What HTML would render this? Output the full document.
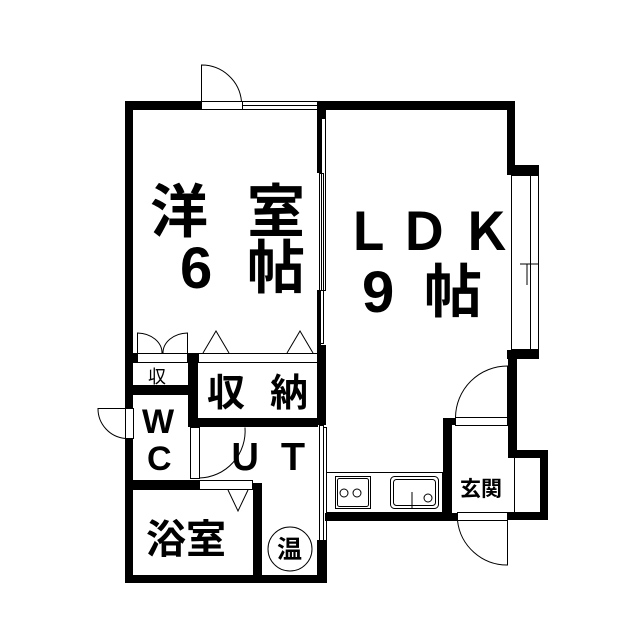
<!DOCTYPE html>
<html><head><meta charset="utf-8"><style>
html,body{margin:0;padding:0;background:#fff}
svg{display:block}
text{font-family:"Liberation Sans","Noto Sans CJK JP",sans-serif;fill:#000}
.b{font-weight:bold}
</style></head><body>
<svg width="639" height="640" viewBox="0 0 639 640" xmlns="http://www.w3.org/2000/svg">
<rect width="639" height="640" fill="#fff"/>
<g fill="#000">
<rect x="125" y="101" width="8" height="307"/>
<rect x="125" y="438" width="8" height="145"/>
<rect x="125" y="101" width="77" height="9"/>
<rect x="317" y="101" width="198" height="9"/>
<rect x="507" y="101" width="8" height="74"/>
<rect x="507" y="165" width="32" height="10"/>
<rect x="507" y="350" width="32" height="9"/>
<rect x="508" y="350" width="9" height="100"/>
<rect x="508" y="450" width="40" height="8"/>
<rect x="540" y="450" width="8" height="70"/>
<rect x="507" y="512" width="41" height="8"/>
<rect x="443" y="418" width="9" height="102"/>
<rect x="443" y="418" width="12" height="7"/>
<rect x="325" y="513" width="132" height="8"/>
<rect x="317" y="101" width="9" height="17"/>
<rect x="317" y="118" width="4" height="55"/>
<rect x="317" y="290" width="4" height="60"/>
<rect x="317" y="345" width="9" height="80"/>
<rect x="317" y="540" width="10" height="43"/>
<rect x="125" y="575" width="202" height="8"/>
<rect x="188" y="353" width="10" height="74"/>
<rect x="188" y="418" width="130" height="9"/>
<rect x="133" y="385" width="65" height="10"/>
<rect x="133" y="480" width="67" height="10"/>
<rect x="253" y="483" width="9" height="100"/>
<rect x="133" y="353" width="4" height="10"/>
</g>
<g fill="none" stroke="#000" stroke-width="1">
<rect x="201.5" y="101.5" width="41" height="8"/>
<path d="M201.5 101.5 V65 A40 40 0 0 1 241.5 101.5"/>
<rect x="242.5" y="101.5" width="75" height="8"/>
<line x1="242.5" y1="105.5" x2="317.5" y2="105.5"/>
<rect x="321.5" y="118.5" width="4" height="172"/>
<rect x="319.5" y="173.5" width="4" height="170"/>
<rect x="319.5" y="425.5" width="4" height="115"/>
<rect x="323.5" y="427.5" width="3" height="113"/>
<rect x="511.5" y="175.5" width="27" height="174"/>
<rect x="530.5" y="175.5" width="8" height="174"/>
<line x1="527" y1="264" x2="527" y2="285"/>
<line x1="520" y1="264" x2="538" y2="264"/>
<rect x="455.5" y="417.5" width="52" height="8"/>
<path d="M455.5 417.5 A52 52 0 0 1 507.5 366 V417.5"/>
<rect x="457.5" y="512.5" width="50" height="8"/>
<path d="M457.5 520.5 A50 50 0 0 0 507.5 565 V520.5"/>
<line x1="514.5" y1="458" x2="514.5" y2="512"/>
<rect x="326.5" y="472.5" width="116" height="40"/>
<rect x="335.5" y="476.5" width="35" height="32"/>
<rect x="337.5" y="478.5" width="31" height="28" rx="2"/>
<circle cx="344" cy="493" r="4"/>
<circle cx="357" cy="493" r="4"/>
<rect x="390.5" y="476.5" width="48" height="32" rx="4"/>
<rect x="393.5" y="479.5" width="42" height="26" rx="3"/>
<line x1="412" y1="492" x2="412" y2="508"/>
<circle cx="428" cy="498" r="4"/>
<rect x="137.5" y="353.5" width="50" height="9"/>
<rect x="198.5" y="353.5" width="120" height="9"/>
<path d="M137.5 353.5 V333 A25 20 0 0 1 162 353.5"/>
<path d="M187.5 353.5 V333 A25 20 0 0 0 163 353.5"/>
<path d="M203 353 L216 331 L229 353"/>
<path d="M287 353 L300 331 L313 353"/>
<rect x="125.5" y="408.5" width="8" height="30"/>
<path d="M125.5 438.5 A30 30 0 0 1 98 408.5 H125.5"/>
<rect x="190.5" y="427.5" width="9" height="51"/>
<path d="M199.5 478 A47 47 0 0 0 245 427.5"/>
<rect x="199.5" y="480.5" width="53" height="9"/>
<path d="M228 490 L238 511 L248 490"/>
<circle cx="290" cy="549" r="22"/>
</g>
<text class="b" x="150" y="232" font-size="58">洋</text>
<text class="b" x="247" y="232" font-size="58">室</text>
<text class="b" x="180" y="288" font-size="58">6</text>
<text class="b" x="247" y="288" font-size="58">帖</text>
<text class="b" x="342" y="250" font-size="52">Ｌ</text>
<text class="b" x="398" y="250" font-size="52">Ｄ</text>
<text class="b" x="460" y="250" font-size="52">Ｋ</text>
<text class="b" x="362" y="312" font-size="58">9</text>
<text class="b" x="424" y="312" font-size="58">帖</text>
<text x="148" y="383" font-size="18">収</text>
<text class="b" x="207" y="406" font-size="38">収</text>
<text class="b" x="270" y="406" font-size="38">納</text>
<text class="b" x="142" y="433" font-size="34">W</text>
<text class="b" x="147" y="470" font-size="34">C</text>
<text class="b" x="227" y="470" font-size="36">Ｕ</text>
<text class="b" x="275" y="470" font-size="36">Ｔ</text>
<text class="b" x="146" y="553" font-size="40">浴室</text>
<text class="b" x="460" y="496" font-size="21">玄関</text>
<text class="b" x="277" y="558" font-size="25">温</text>
</svg>
</body></html>
